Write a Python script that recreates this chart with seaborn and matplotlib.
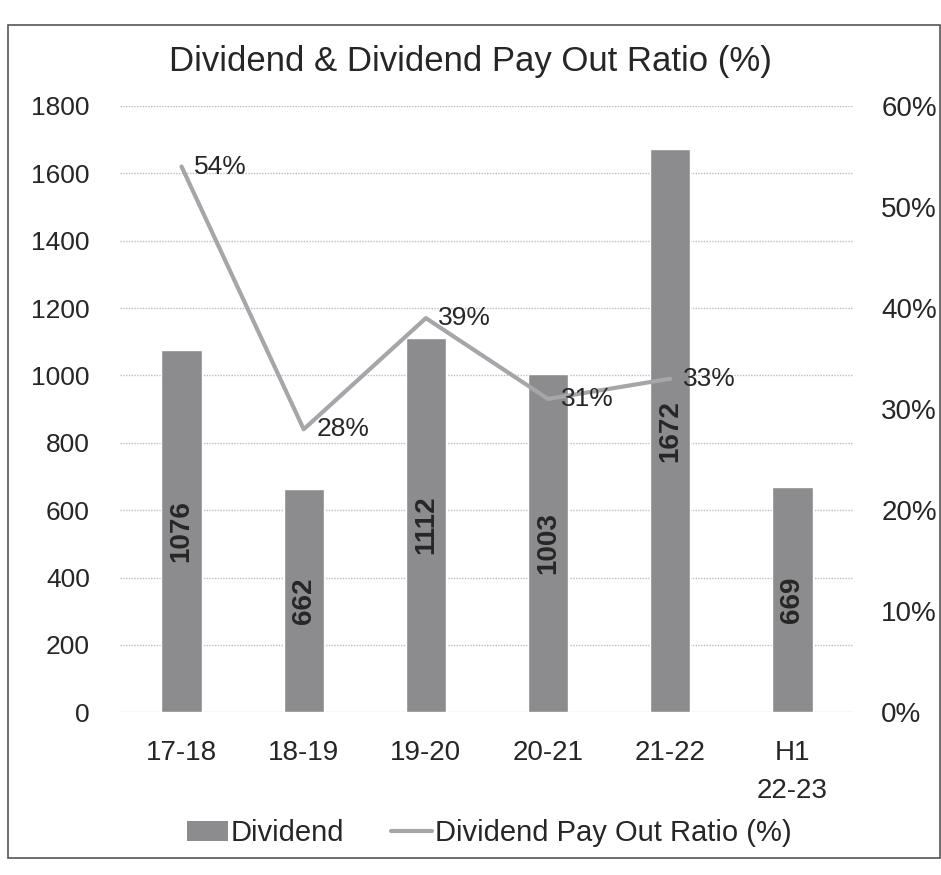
import matplotlib.pyplot as plt
import pandas as pd
import seaborn as sns
from matplotlib.patches import Patch, Rectangle
from matplotlib.lines import Line2D
from matplotlib.ticker import FuncFormatter

sns.set_style("white")
plt.rcParams["font.family"] = ["Liberation Sans", "DejaVu Sans"]

# data
periods = ["17-18", "18-19", "19-20", "20-21", "21-22", "H1\n22-23"]
dividend = [1076, 662, 1112, 1003, 1672, 669]
payout_periods = ["17-18", "18-19", "19-20", "20-21", "21-22"]
payout_pct = [54, 28, 39, 31, 33]

bar_color = "#8c8c8e"
line_color = "#a6a6aa"
text_color = "#262626"

df = pd.DataFrame({"Period": periods, "Dividend": dividend})
df_line = pd.DataFrame({
    "pos": [periods.index(p) for p in payout_periods],
    "Ratio": payout_pct,
})

fig = plt.figure(figsize=(9.41, 8.75), dpi=100)
ax = fig.add_axes([0.128, 0.186, 0.779, 0.693])

sns.barplot(data=df, x="Period", y="Dividend", color=bar_color, width=0.33,
            saturation=1, ax=ax)
ax.bar_label(ax.containers[0], labels=[str(v) for v in dividend],
             label_type="center", rotation=90, fontsize=20,
             fontweight="bold", color=text_color)

ax.set_ylim(0, 1800)
ax.set_yticks(range(0, 1801, 200))
ax.set_xlim(-0.5, len(periods) - 0.5)
ax.set_xlabel("")
ax.set_ylabel("")
ax.grid(axis="y", color="#bdbdbd", linestyle=(0, (1, 1)), linewidth=1)
ax.set_axisbelow(True)
ax.tick_params(axis="y", length=0, labelsize=19, colors=text_color, pad=22)
ax.tick_params(axis="x", length=0, labelsize=20, colors=text_color, pad=20)
for lbl in ax.get_xticklabels():
    lbl.set_linespacing(1.6)
for s in ax.spines.values():
    s.set_visible(False)

ax2 = ax.twinx()
sns.lineplot(data=df_line, x="pos", y="Ratio", color=line_color, linewidth=3,
             ax=ax2)
for p, v in zip(df_line["pos"], df_line["Ratio"]):
    ax2.annotate(f"{v}%", (p, v), xytext=(9, 0), textcoords="offset points",
                 va="center", ha="left", fontsize=19, color=text_color)
ax2.set_ylim(0, 60)
ax2.set_yticks(range(0, 61, 10))
ax2.yaxis.set_major_formatter(FuncFormatter(lambda v, _: f"{v:.0f}%"))
ax2.set_ylabel("")
ax2.tick_params(axis="y", length=0, labelsize=20, colors=text_color, pad=20)
for s in ax2.spines.values():
    s.set_visible(False)
ax2.set_xlim(-0.5, len(periods) - 0.5)

fig.text(0.5, 0.93, "Dividend & Dividend Pay Out Ratio (%)", ha="center",
         va="center", fontsize=25, color=text_color)

handles = [Patch(facecolor=bar_color, edgecolor="none"),
           Line2D([0], [0], color=line_color, linewidth=3)]
fig.legend(handles, ["Dividend", "Dividend Pay Out Ratio (%)"],
           loc="center", bbox_to_anchor=(0.52, 0.048), ncol=2, frameon=False,
           fontsize=21, handlelength=1.4, handletextpad=0.1,
           columnspacing=1.6, labelcolor=text_color)

fig.patches.append(Rectangle((0.009, 0.019), 0.99, 0.952, transform=fig.transFigure,
                             fill=False, edgecolor="#555555", linewidth=1.2))

fig.savefig("out.png", dpi=100)
